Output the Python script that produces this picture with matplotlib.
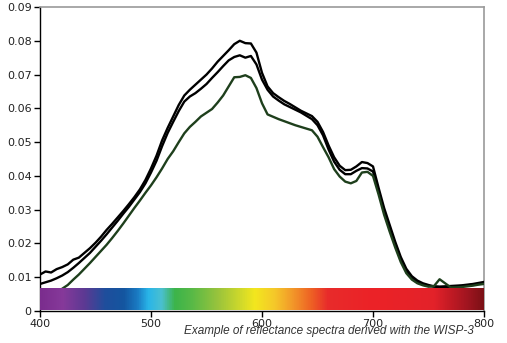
import numpy as np
import matplotlib
matplotlib.use("Agg")
import matplotlib.pyplot as plt
from matplotlib.colors import LinearSegmentedColormap
from matplotlib.ticker import FuncFormatter

# wavelength grid (nm), 5 nm steps
wl = list(range(400, 805, 5))

# reflectance spectra
refl_a = [0.0108, 0.0117, 0.0114, 0.0124, 0.0130, 0.0138, 0.0152, 0.0158, 0.0172, 0.0186,
          0.0202, 0.0220, 0.0240, 0.0258, 0.0277, 0.0296, 0.0316, 0.0337, 0.0360, 0.0388,
          0.0422, 0.0460, 0.0505, 0.0542, 0.0576, 0.0610, 0.0638, 0.0655, 0.0670, 0.0685,
          0.0700, 0.0718, 0.0738, 0.0755, 0.0772, 0.0790, 0.0800, 0.0793, 0.0792, 0.0765,
          0.0705, 0.0665, 0.0645, 0.0633, 0.0622, 0.0613, 0.0603, 0.0593, 0.0585, 0.0577,
          0.0560, 0.0530, 0.0490, 0.0455, 0.0430, 0.0417, 0.0418, 0.0428, 0.0441, 0.0438,
          0.0428, 0.0365, 0.0305, 0.0255, 0.0205, 0.0160, 0.0125, 0.0103, 0.0090, 0.0082,
          0.0077, 0.0073, 0.0072, 0.0073, 0.0074, 0.0075, 0.0076, 0.0078, 0.0080, 0.0083,
          0.0086]
refl_b = [0.0080, 0.0085, 0.0090, 0.0097, 0.0105, 0.0115, 0.0128, 0.0142, 0.0157, 0.0172,
          0.0190, 0.0208, 0.0227, 0.0247, 0.0267, 0.0288, 0.0308, 0.0330, 0.0352, 0.0378,
          0.0410, 0.0445, 0.0488, 0.0527, 0.0560, 0.0592, 0.0620, 0.0635, 0.0645, 0.0658,
          0.0672, 0.0690, 0.0707, 0.0725, 0.0742, 0.0752, 0.0757, 0.0750, 0.0755, 0.0730,
          0.0685, 0.0655, 0.0635, 0.0623, 0.0612, 0.0604, 0.0596, 0.0588, 0.0578, 0.0568,
          0.0550, 0.0520, 0.0478, 0.0442, 0.0418, 0.0405, 0.0405, 0.0415, 0.0423, 0.0422,
          0.0413, 0.0355, 0.0295, 0.0247, 0.0198, 0.0153, 0.0118, 0.0097, 0.0085, 0.0078,
          0.0074, 0.0072, 0.0071, 0.0071, 0.0072, 0.0073, 0.0074, 0.0076, 0.0078, 0.0080,
          0.0082]
refl_c = [0.0020, 0.0032, 0.0043, 0.0055, 0.0066, 0.0077, 0.0093, 0.0108, 0.0125, 0.0142,
          0.0160, 0.0178, 0.0196, 0.0216, 0.0237, 0.0259, 0.0282, 0.0305, 0.0327, 0.0350,
          0.0372, 0.0396, 0.0422, 0.0450, 0.0473, 0.0500, 0.0526, 0.0545, 0.0560, 0.0576,
          0.0587, 0.0598, 0.0617, 0.0638, 0.0665, 0.0692, 0.0693, 0.0698, 0.0690, 0.0660,
          0.0615, 0.0582, 0.0575, 0.0568, 0.0562, 0.0556, 0.0550, 0.0545, 0.0540, 0.0535,
          0.0516, 0.0485, 0.0455, 0.0420, 0.0398, 0.0383, 0.0378, 0.0385, 0.0410, 0.0412,
          0.0400, 0.0345, 0.0285, 0.0235, 0.0188, 0.0145, 0.0112, 0.0093, 0.0082, 0.0076,
          0.0072, 0.0074, 0.0094, 0.0082, 0.0070, 0.0070, 0.0071, 0.0073, 0.0075, 0.0078,
          0.0080]

# visible spectrum strip: wavelength stops and colours
strip_wl = [400, 420, 440, 458, 475, 487, 497, 509, 521, 536, 560, 581, 593, 611,
            629, 644, 659, 700, 755, 770, 785, 800]
strip_col = ['#7b2d8e', '#86399a', '#5b3a93', '#1f4e9c', '#1456a0', '#1a7ac2',
             '#29b5e8', '#4bc0d0', '#3cb44a', '#57b947', '#9ac43c', '#d2da2a',
             '#f3e71e', '#f5c82a', '#f29229', '#ee6124', '#e82b2b', '#ec2227',
             '#e3222a', '#c11a24', '#a01520', '#7a1015']
strip_bottom, strip_top = 0.0003, 0.0068

fig = plt.figure(figsize=(5.07, 3.43), dpi=100)
ax = fig.add_axes([40/507, 32/343, 444/507, 304/343])

ax.plot(wl, refl_a, color='black', lw=1.7, zorder=3)
ax.plot(wl, refl_b, color='black', lw=1.7, zorder=3)
ax.plot(wl, refl_c, color='#1e3f1c', lw=1.7, zorder=3)

pos = [(w - strip_wl[0]) / (strip_wl[-1] - strip_wl[0]) for w in strip_wl]
cmap = LinearSegmentedColormap.from_list('spectrum', list(zip(pos, strip_col)))
ax.imshow(np.linspace(0, 1, 512).reshape(1, -1), cmap=cmap, aspect='auto',
          extent=[400, 801, strip_bottom, strip_top], zorder=4, interpolation='bilinear')

ax.set_xlim(400, 800)
ax.set_ylim(0, 0.09)
ax.set_xticks([400, 500, 600, 700, 800])
ax.set_yticks(np.arange(0, 0.091, 0.01))
ax.yaxis.set_major_formatter(FuncFormatter(lambda v, p: '0' if abs(v) < 1e-9 else f'{v:.2f}'))

for s in ['left', 'bottom']:
    ax.spines[s].set_color('black')
    ax.spines[s].set_linewidth(1.0)
for s in ['top', 'right']:
    ax.spines[s].set_color('#9a9a9a')
    ax.spines[s].set_linewidth(1.2)

ax.tick_params(direction='out', length=4, width=1.0, labelsize=8, colors='black',
               labelcolor='#222222')
ax.tick_params(axis='x', pad=1.5)
ax.tick_params(axis='y', pad=2)

fig.text(474/507, 1 - 331/343, 'Example of reflectance spectra derived with the WISP-3',
         ha='right', va='center', fontsize=8.5, style='italic',
         family='Liberation Sans', color='#333333')

fig.savefig('out.png', dpi=100)
